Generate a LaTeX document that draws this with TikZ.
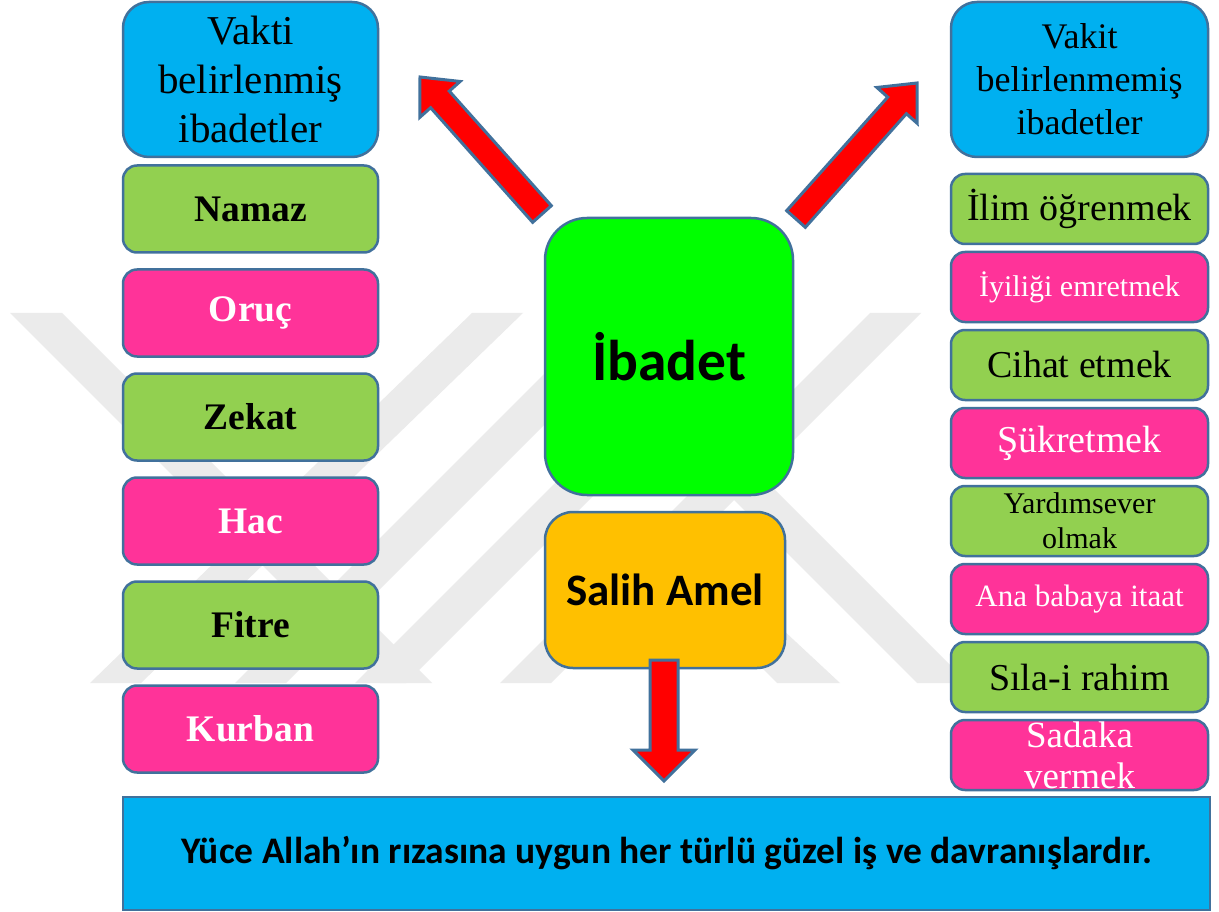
\documentclass[tikz,border=0pt]{standalone}
\usepackage{fontspec}
\setmainfont{Liberation Serif}
\newfontfamily\calib{Carlito}
\usetikzlibrary{calc}
\definecolor{cblue}{HTML}{00B0F0}
\definecolor{cgreen}{HTML}{92D050}
\definecolor{cpink}{HTML}{FF3399}
\definecolor{clime}{HTML}{00FF00}
\definecolor{corange}{HTML}{FFC000}
\definecolor{cedge}{HTML}{41719C}
\definecolor{cwm}{HTML}{EBEBEB}
\definecolor{cred}{HTML}{FF0000}
\tikzset{
  box/.style={draw=cedge, line width=2.5pt, rounded corners=14pt, inner sep=0pt, align=center},
  lbox/.style={box, minimum width=255pt, minimum height=87pt, font={\fontsize{37.5}{41}\selectfont\bfseries}},
  rbox/.style={box, minimum width=257pt, minimum height=70pt, font={\fontsize{38}{41}\selectfont}},
  headbox/.style={box, fill=cblue, rounded corners=26pt, minimum height=155pt},
  wm/.style={fill=cwm, draw=none},
  blockarrow/.style={fill=cred, draw=cedge, line width=3pt, line join=miter},
}
\newcommand{\barrow}[5]{%
  \coordinate (bq) at ($(#2)!#5!(#1)$);
  \draw[blockarrow] ($(#1)!#3!90:(#2)$) -- ($(bq)!#3!-90:(#1)$) -- ($(bq)!#4!-90:(#1)$)
     -- (#2) -- ($(bq)!#4!90:(#1)$) -- ($(bq)!#3!90:(#1)$) -- ($(#1)!#3!-90:(#2)$) -- cycle;}
\begin{document}
\begin{tikzpicture}[x=1pt,y=-1pt]
\useasboundingbox (0,0) rectangle (1219,912);
\fill[white] (0,0) rectangle (1219,912);
% watermark
\fill[wm] (10,313) -- (62,313) -- (432,683) -- (380,683) -- cycle;
\fill[wm] (472,313) -- (523,313) -- (141,683) -- (90,683) -- cycle;
\fill[wm] (605,313) -- (656,313) -- (286,683) -- (235,683) -- cycle;
\fill[wm] (725,313) -- (776,313) -- (406,683) -- (355,683) -- cycle;
\fill[wm] (870,313) -- (921,313) -- (551,683) -- (500,683) -- cycle;
\fill[wm] (547,313) -- (598,313) -- (968,683) -- (917,683) -- cycle;
\fill[wm] (614,520) -- (665,520) -- (840,683) -- (777,683) -- cycle;
% left column
\node[headbox, minimum width=255pt, font={\fontsize{41}{49}\selectfont}] (lt) at (250.5,79.5) {Vakti\\belirlenmiş\\ibadetler};
\node[lbox, fill=cgreen] (namaz) at (250.5,209) {Namaz};
\node[lbox, fill=cpink, text=white] (oruc) at (250.5,313) {Oruç};
\node[lbox, fill=cgreen] (zekat) at (250.5,417) {Zekat};
\node[lbox, fill=cpink, text=white] (hac) at (250.5,521) {Hac};
\node[lbox, fill=cgreen] (fitre) at (250.5,625) {Fitre};
\node[lbox, fill=cpink, text=white] (kurban) at (250.5,729) {Kurban};
% right column
\node[headbox, minimum width=257pt, font={\fontsize{36}{43}\selectfont}] (rt) at (1079.5,79.5) {Vakit\\belirlenmemiş\\ibadetler};
\node[rbox, fill=cgreen] (ilim) at (1079.5,209) {İlim öğrenmek};
\node[rbox, fill=cpink, text=white, font={\fontsize{30}{35}\selectfont}] (iyilik) at (1079.5,287) {İyiliği emretmek};
\node[rbox, fill=cgreen] (cihat) at (1079.5,365) {Cihat etmek};
\node[rbox, fill=cpink, text=white] (sukur) at (1079.5,443) {Şükretmek};
\node[rbox, fill=cgreen, font={\fontsize{30}{35}\selectfont}] (yardim) at (1079.5,521) {Yardımsever\\olmak};
\node[rbox, fill=cpink, text=white, font={\fontsize{31}{35}\selectfont}] (ana) at (1079.5,599) {Ana babaya itaat};
\node[rbox, fill=cgreen] (sila) at (1079.5,677) {Sıla-i rahim};
\node[rbox, fill=cpink, text=white, font={\fontsize{37}{41}\selectfont}] (sadaka) at (1079.5,755) {Sadaka\\vermek};
% center
\node[box, fill=clime, rounded corners=42pt, minimum width=248pt, minimum height=277pt, font={\calib\bfseries\fontsize{57.5}{62}\selectfont}] (ibadet) at (669,356.5) {İbadet};
\node[box, fill=corange, rounded corners=28pt, minimum width=240pt, minimum height=156pt, font={\calib\bfseries\fontsize{45}{50}\selectfont}] (salih) at (665,590) {Salih Amel};
% bottom definition
\node[draw=cedge, line width=2.5pt, fill=cblue, minimum width=1087pt, minimum height=113pt, inner sep=0pt, font={\calib\bfseries\fontsize{37.5}{42}\selectfont}] (tanim) at (666.5,853.5) {Yüce Allah’ın rızasına uygun her türlü güzel iş ve davranışlardır.};
% arrows
\coordinate (la-tail) at (542,214);
\coordinate (la-tip) at (420,77);
\coordinate (ra-tail) at (796,219);
\coordinate (ra-tip) at (917,83);
\coordinate (da-tail) at (664,660);
\coordinate (da-tip) at (664,781);
\barrow{la-tail}{la-tip}{12.5pt}{27pt}{30pt}
\barrow{ra-tail}{ra-tip}{12.5pt}{27pt}{30pt}
\barrow{da-tail}{da-tip}{14pt}{31pt}{31pt}
\end{tikzpicture}
\end{document}
